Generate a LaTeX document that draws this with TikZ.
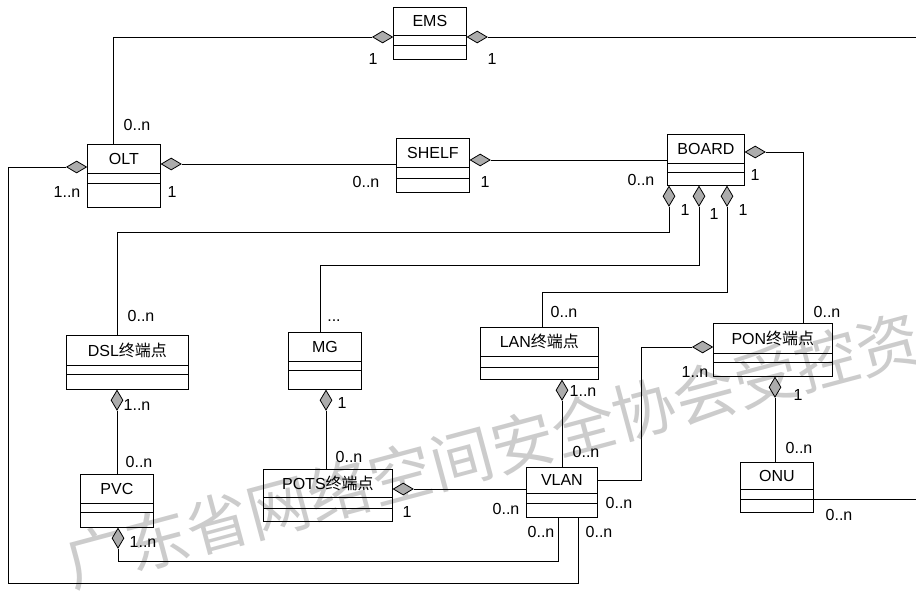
\documentclass[tikz,border=0pt]{standalone}
\usepackage{fontspec}
\setmainfont{Liberation Sans}
\newfontfamily\cjk{Noto Sans CJK SC}
\usetikzlibrary{shapes.geometric,calc}
\newcommand\umlclass[8]{%
  \node[clsbox, minimum width=#4pt, minimum height=#5pt] (#1) at (#2,#3) {};
  \node[clstitle] (#1-title) at ($(#1.north)+(0,#6/2)$) {#8};
  \draw ($(#1.north west)+(0,#6)$) -- ($(#1.north east)+(0,#6)$);
  \draw ($(#1.north west)+(0,#7)$) -- ($(#1.north east)+(0,#7)$);
}
\begin{document}
\begin{tikzpicture}[x=1pt,y=-1pt,
  line width=0.8pt,
  clsbox/.style={draw, rectangle, inner sep=0pt, anchor=north west},
  clstitle/.style={font=\fontsize{16}{16}\selectfont, inner sep=0pt},
  lab/.style={font=\fontsize{16}{16}\selectfont, inner sep=0pt, anchor=base},
  hdia/.style={diamond, draw, fill=gray!65, minimum width=20pt, minimum height=12pt, inner sep=0pt},
  vdia/.style={diamond, draw, fill=gray!65, minimum width=12pt, minimum height=20pt, inner sep=0pt}]
\fill[white] (0,0) rectangle (916,594);
\useasboundingbox (0,0) rectangle (916,594);
% watermark
\node[rotate=15, text=gray!40, font=\cjk\fontsize{63}{63}\selectfont, inner sep=0pt] (wm) at (492,450) {广东省网络空间安全协会受控资};
% classes
\umlclass{EMS}{393}{7}{73}{52}{28}{38}{EMS}
\umlclass{OLT}{87}{144}{73}{63}{29}{39}{OLT}
\umlclass{SHELF}{396}{138}{73}{54}{29}{40}{SHELF}
\umlclass{BOARD}{667}{134}{77}{51}{29}{38}{BOARD}
\umlclass{DSL}{66}{335}{122}{54}{30}{39}{DSL{\cjk 终端点}}
\umlclass{MG}{288}{332}{73}{57}{29}{38}{MG}
\umlclass{LAN}{480}{327}{118}{52}{29}{40}{LAN{\cjk 终端点}}
\umlclass{PON}{713}{323}{119}{53}{30}{39}{PON{\cjk 终端点}}
\umlclass{PVC}{80}{474}{73}{53}{29}{38}{PVC}
\umlclass{POTS}{263}{469}{129}{52}{28}{39}{POTS{\cjk 终端点}}
\umlclass{VLAN}{526}{467}{71}{50}{26}{36}{VLAN}
\umlclass{ONU}{740}{462}{73}{50}{27}{37}{ONU}
% diamonds
\node[hdia, anchor=east] (dEMSl) at ($(EMS.north west)+(0,30)$) {};
\node[hdia, anchor=west] (dEMSr) at ($(EMS.north east)+(0,30)$) {};
\node[hdia, anchor=east] (dOLTl) at ($(OLT.north west)+(0,23)$) {};
\node[hdia, anchor=west] (dOLTr) at ($(OLT.north east)+(0,20)$) {};
\node[hdia, anchor=west] (dSHELF) at ($(SHELF.north east)+(0,22)$) {};
\node[hdia, anchor=west] (dBOARDr) at ($(BOARD.north east)+(0,18)$) {};
\node[vdia, anchor=north] (dB1) at ($(BOARD.south west)+(2,0)$) {};
\node[vdia, anchor=north] (dB2) at ($(BOARD.south west)+(32,0)$) {};
\node[vdia, anchor=north] (dB3) at ($(BOARD.south west)+(60,0)$) {};
\node[vdia, anchor=north] (dDSL) at ($(DSL.south west)+(51,0)$) {};
\node[vdia, anchor=north] (dMG) at ($(MG.south west)+(38,0)$) {};
\node[vdia, anchor=north] (dLAN) at ($(LAN.south west)+(82,0)$) {};
\node[hdia, anchor=east] (dPONl) at ($(PON.north west)+(0,24)$) {};
\node[vdia, anchor=north] (dPONb) at ($(PON.south west)+(62,0)$) {};
\node[vdia, anchor=north] (dPVC) at ($(PVC.south west)+(38,0)$) {};
\node[hdia, anchor=west] (dPOTS) at ($(POTS.north east)+(0,20)$) {};
% helper points
\coordinate (emsR) at (916,37);
\coordinate (c1) at (8,583);
\coordinate (k1) at (117,232);
\coordinate (k2) at (320,265);
\coordinate (k3) at (542,292);
\coordinate (k4) at (641,480);
\coordinate (k5) at (558,561);
\coordinate (onuR) at (916,499);
% connectors
\draw (dEMSl.west) -| ($(OLT.north west)+(26,0)$);
\draw (dEMSr.east) -- (dEMSr.east -| emsR);
\draw (dOLTl.west) -| (c1) -| ($(VLAN.south west)+(52,0)$);
\draw (dOLTr.east) -- (dOLTr.east -| SHELF.west);
\draw (dSHELF.east) -- (dSHELF.east -| BOARD.west);
\draw (dBOARDr.east) -| ($(PON.north west)+(90,0)$);
\draw (dB1.south) |- (k1) -- (k1 |- DSL.north);
\draw (dB2.south) |- (k2) -- (k2 |- MG.north);
\draw (dB3.south) |- (k3) -- (k3 |- LAN.north);
\draw (dDSL.south) -- (dDSL.south |- PVC.north);
\draw (dMG.south) -- (dMG.south |- POTS.north);
\draw (dLAN.south) -- (dLAN.south |- VLAN.north);
\draw (dPONl.west) -| (k4) -- (k4 -| VLAN.east);
\draw (dPONb.south) -- (dPONb.south |- ONU.north);
\draw (dPVC.south) |- (k5) -- (k5 |- VLAN.south);
\draw (dPOTS.east) -- (dPOTS.east -| VLAN.west);
\draw (ONU.east |- onuR) -- (onuR);
% multiplicity labels
\node[lab] (l1) at (373,65) {1};
\node[lab] (l2) at (492,65) {1};
\node[lab] (l3) at (137,130) {0..n};
\node[lab] (l4) at (67,197) {1..n};
\node[lab] (l5) at (172,197) {1};
\node[lab] (l6) at (366,187) {0..n};
\node[lab] (l7) at (485,187) {1};
\node[lab] (l8) at (641,185) {0..n};
\node[lab] (l9) at (755,180) {1};
\node[lab] (l10) at (685,215) {1};
\node[lab] (l11) at (714,219) {1};
\node[lab] (l12) at (743,215) {1};
\node[lab] (l13) at (141,321) {0..n};
\node[lab] (l14) at (334,321) {...};
\node[lab] (l15) at (564,317) {0..n};
\node[lab] (l16) at (827,317) {0..n};
\node[lab] (l17) at (695,377) {1..n};
\node[lab] (l18) at (583,396) {1..n};
\node[lab] (l19) at (798,400) {1};
\node[lab] (l20) at (137,410) {1..n};
\node[lab] (l21) at (342,408) {1};
\node[lab] (l22) at (139,467) {0..n};
\node[lab] (l23) at (143,547) {1..n};
\node[lab] (l24) at (349,462) {0..n};
\node[lab] (l25) at (407,517) {1};
\node[lab] (l26) at (506,514) {0..n};
\node[lab] (l27) at (619,508) {0..n};
\node[lab] (l28) at (586,457) {0..n};
\node[lab] (l29) at (541,537) {0..n};
\node[lab] (l30) at (599,537) {0..n};
\node[lab] (l31) at (799,453) {0..n};
\node[lab] (l32) at (839,520) {0..n};
\end{tikzpicture}
\end{document}
